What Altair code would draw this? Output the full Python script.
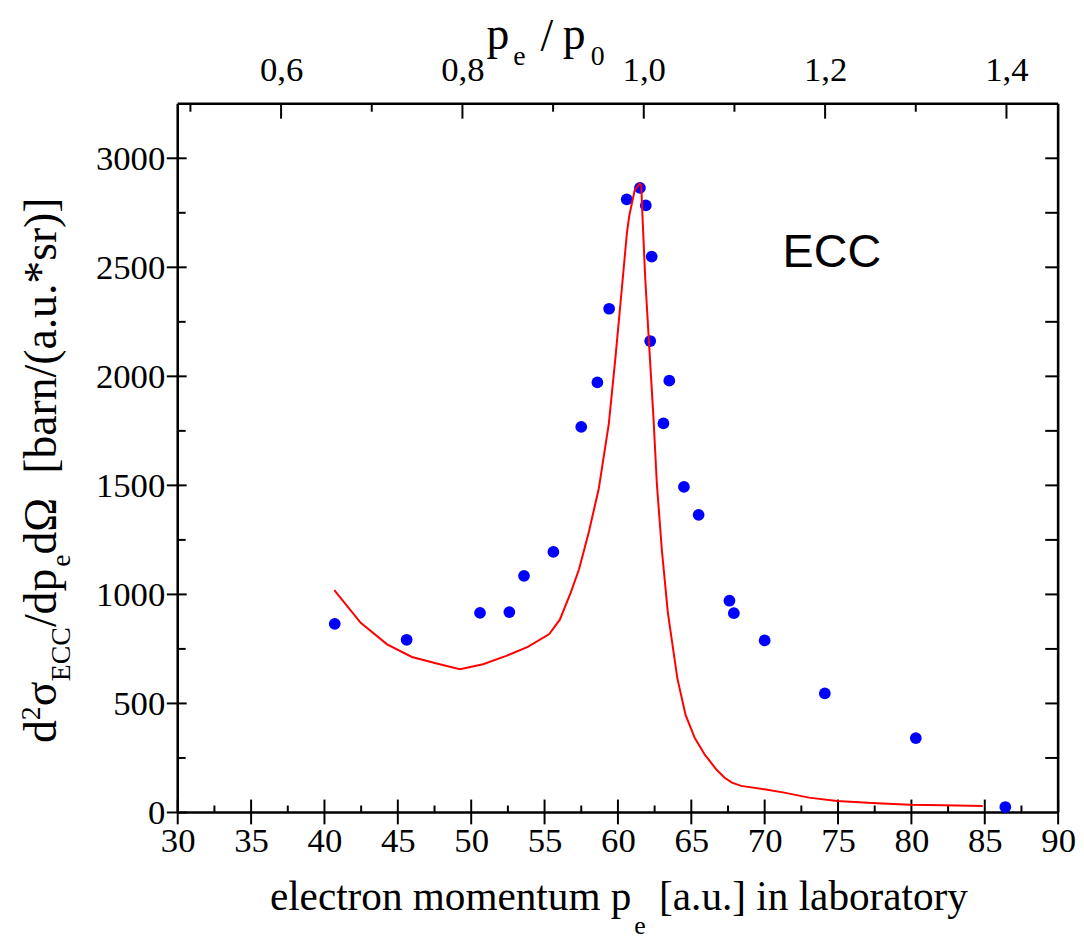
import altair as alt
import pandas as pd

# ---------------- data ----------------
pts_x = [40.7, 45.6, 50.6, 52.6, 53.6, 55.6, 57.5, 58.6, 59.4, 60.6, 61.5, 61.9,
         62.3, 62.2, 63.1, 63.5, 64.5, 65.5, 67.6, 67.9, 70.0, 74.1, 80.3, 86.4]
pts_y = [865, 792, 915, 919, 1085, 1195, 1768, 1972, 2310, 2812, 2864, 2784,
         2549, 2162, 1784, 1980, 1493, 1365, 971, 914, 789, 546, 341, 25]

th_x = [40.67, 42.47, 44.27, 45.96, 47.65, 49.23, 50.81, 52.39, 53.86, 55.32, 56.04,
        56.79, 57.35, 58.03, 58.70, 59.38, 59.83, 60.29, 60.62, 60.78, 61.14, 61.48,
        61.59, 61.68, 61.86, 62.15, 62.42, 62.65, 62.99, 63.40, 64.05, 64.61, 65.24,
        65.92, 66.71, 67.27, 67.77, 68.40, 69.98, 71.33, 73.02, 74.94, 77.64, 79.90,
        82.15, 84.86]
th_y = [1020, 870, 771, 713, 683, 657, 680, 718, 759, 818, 884,
        1009, 1115, 1290, 1487, 1783, 2086, 2420, 2663, 2739, 2853, 2885,
        2875, 2723, 2450, 2117, 1813, 1510, 1206, 918, 615, 447, 341,
        265, 197, 159, 137, 122, 106, 91, 68, 53, 42, 35,
        33, 30]

x_major = [30, 35, 40, 45, 50, 55, 60, 65, 70, 75, 80, 85, 90]
x_minor = [32.5, 37.5, 42.5, 47.5, 52.5, 57.5, 62.5, 67.5, 72.5, 77.5, 82.5, 87.5]
y_major = [0, 500, 1000, 1500, 2000, 2500, 3000]
y_minor = [250, 750, 1250, 1750, 2250, 2750]
y_right = [250, 500, 750, 1000, 1250, 1500, 1750, 2000, 2250, 2500, 2750, 3000]
top_major = [0.6, 0.8, 1.0, 1.2, 1.4]
top_minor = [0.5, 0.7, 0.9, 1.1, 1.3]

SERIF = "Liberation Serif"
W, H = 887, 714

xs = alt.Scale(domain=[30, 90], nice=False, zero=False)
ys = alt.Scale(domain=[0, 3250], nice=False, zero=False)
ts = alt.Scale(domain=[0.486, 1.457], nice=False, zero=False)

x_axis = alt.Axis(values=x_major, ticks=False, tickSize=0, domain=False, grid=False,
                  labelFont=SERIF, labelFontSize=35, labelColor="black", labelPadding=11,
                  labelAngle=0, labelFlush=False, labelOverlap=False, title="", orient="bottom",
                  format="d")
y_axis = alt.Axis(values=y_major, ticks=False, tickSize=0, domain=False, grid=False,
                  labelFont=SERIF, labelFontSize=35, labelColor="black", labelPadding=13,
                  labelFlush=False, labelOverlap=False, title="", orient="left", format="d")
t_axis = alt.Axis(values=top_major, ticks=False, tickSize=0, domain=False, grid=False,
                  labelFont=SERIF, labelFontSize=35, labelColor="black", labelPadding=16,
                  labelAngle=0, labelFlush=False, labelOverlap=False, title="", orient="top",
                  labelExpr="replace(format(datum.value, '.1f'), '.', ',')")


def X(f):
    return alt.X(f"{f}:Q", scale=xs, axis=x_axis)


def Y(f):
    return alt.Y(f"{f}:Q", scale=ys, axis=y_axis)


def rules_x(vals, y0, y1):
    return alt.Chart(pd.DataFrame({"v": vals})).mark_rule(color="black", strokeWidth=2).encode(
        x=X("v"), y=alt.value(y0), y2=alt.value(y1))


def rules_y(vals, x0, x1):
    return alt.Chart(pd.DataFrame({"v": vals})).mark_rule(color="black", strokeWidth=2).encode(
        y=Y("v"), x=alt.value(x0), x2=alt.value(x1))


def frame_rule(x0, x1, y0, y1):
    return alt.Chart(pd.DataFrame({"k": [0]})).mark_rule(color="black", strokeWidth=2.6).encode(
        x=alt.value(x0), x2=alt.value(x1), y=alt.value(y0), y2=alt.value(y1))


def txt(s, x, y, fs, align="left", angle=0, baseline="alphabetic", font=SERIF):
    return alt.Chart(pd.DataFrame({"t": [s]})).mark_text(
        text=s, align=align, baseline=baseline, angle=angle, fontSize=fs, font=font,
        color="black").encode(x=alt.value(x), y=alt.value(y))


pts = pd.DataFrame({"x": pts_x, "y": pts_y})
th = pd.DataFrame({"x": th_x, "y": th_y})

points = alt.Chart(pts).mark_circle(color="#0000ff", opacity=1, size=140).encode(x=X("x"), y=Y("y"))
line = alt.Chart(th).mark_line(color="#ff0000", strokeWidth=2).encode(x=X("x"), y=Y("y"))

# ---- titles (built from pieces to get sub/superscripts) ----
OX, OY = 179, 101  # plot origin on page
titles = []
# bottom title
titles.append(txt("electron momentum p", 636 - OX, 913 - OY, 41.5, align="right"))
titles.append(txt("e", 639 - OX, 937 - OY, 26))
titles.append(txt("[a.u.] in laboratory", 664 - OX, 913 - OY, 41.5))
# top title
titles.append(txt("p", 490 - OX, 46 - OY, 46))
titles.append(txt("e", 517 - OX, 62 - OY, 28))
titles.append(txt("/", 551 - OX, 48 - OY, 46, align="center"))
titles.append(txt("p", 567 - OX, 46 - OY, 46))
titles.append(txt("0", 595 - OX, 62 - OY, 28))
# left (rotated) title
fm, fsub = 46, 28
pieces = [("d", fm, 0, 0.5), ("2", fsub, -1, 0.5), ("σ", fm, 0, 0.55), ("ECC", fsub, 1, 1.945),
          ("/dp", fm, 0, 1.32), ("e", fsub, 1, 0.444), ("dΩ", fm, 0, 1.268), (None, fm, 0, 0.5),
          ("[barn/(a.u.*sr)]", fm, 0, 6.053)]
base_x = {0: 56, -1: 40, 1: 70}
ypos = 745.0
for s, fs, kind, em in pieces:
    if s is not None:
        titles.append(txt(s, base_x[kind] - OX, ypos - OY, fs, angle=270))
    ypos -= em * fs
# ECC label
titles.append(txt("ECC", 838 - OX, 251 - OY, 47, align="center", baseline="middle",
                  font="Liberation Sans"))

base = alt.layer(
    frame_rule(0, W, 0, 0),
    frame_rule(0, W, H, H),
    frame_rule(0, 0, 0, H),
    frame_rule(W, W, 0, H),
    rules_x(x_major, H - 13, H + 12),
    rules_x(x_minor, H - 7, H),
    rules_y(y_major, -11, 9),
    rules_y(y_minor, 0, 8),
    rules_y(y_right, W - 13, W),
    points,
    line,
    *titles,
)

top = alt.layer(
    alt.Chart(pd.DataFrame({"v": top_major})).mark_rule(color="black", strokeWidth=2).encode(
        x=alt.X("v:Q", scale=ts, axis=t_axis), y=alt.value(0), y2=alt.value(15)),
    alt.Chart(pd.DataFrame({"v": top_minor})).mark_rule(color="black", strokeWidth=2).encode(
        x=alt.X("v:Q", scale=ts, axis=t_axis), y=alt.value(0), y2=alt.value(8)),
)

chart = alt.layer(base, top).resolve_scale(x="independent").properties(
    width=W, height=H,
    padding={"left": 171, "top": 93, "right": 18, "bottom": 125},
    autosize=alt.AutoSizeParams(type="none"),
).configure_view(stroke="transparent").configure(background="white")

chart.save("out.html", embed_options={"renderer": "svg", "actions": False})
